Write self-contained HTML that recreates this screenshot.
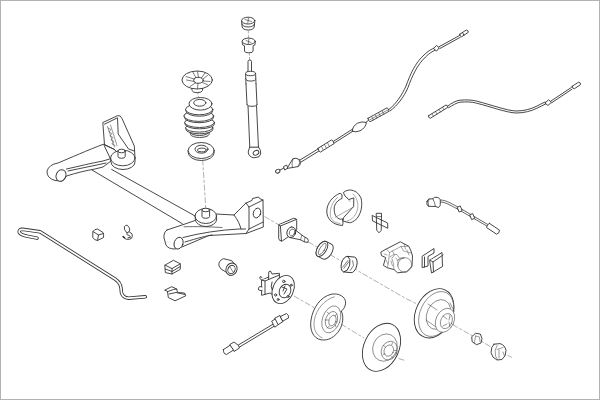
<!DOCTYPE html>
<html><head><meta charset="utf-8">
<style>
html,body{margin:0;padding:0;background:#fff;}
body{width:600px;height:400px;overflow:hidden;position:relative;}
svg{position:absolute;left:0;top:0;}
</style></head>
<body>
<svg width="600" height="400" viewBox="0 0 600 400">
<rect x="0.5" y="0.5" width="599" height="399" fill="#fff" stroke="#b2b2b2" stroke-width="1"/>
<g fill="none" stroke="#8c8c8c" stroke-width="0.7" stroke-dasharray="6 1.8 3 1.8">
  <path d="M202.7,159.5 L205.7,208"/>
  <path d="M248.3,30.5 L248.5,38 M249.3,52.5 L249.6,60 M197.5,91.5 L198.5,97.5" stroke-dasharray="3 1.5"/>
  <path d="M264.5,216.5 L317,247 L341,261 L404,297.5 L421,306 M452.5,324.5 L471,335 L491,347 L512,357.5"/>
  <path d="M294,296 L314,307.5 M341,324 L364,338 M398.5,358.5 L406,360.8"/>
  <path d="M0,0" />
</g>
<g fill="#fff" stroke="#333" stroke-width="0.9" stroke-linejoin="round" stroke-linecap="round">
  <!-- top nut -->
  <path d="M241.6,21 L242.2,27 A6,3 0 0 0 254.2,27 L254.8,21"/>
  <path d="M241.9,24 A6.3,3 0 0 0 254.5,24" fill="none"/>
  <ellipse cx="248.2" cy="20.6" rx="6.6" ry="3.4"/>
  <path d="M245,19.5 L251.5,21.5 M248.5,18 L247.8,23" fill="none" stroke-width="0.6"/>
  <!-- second nut -->
  <path d="M242.2,41.5 L242.5,44.8 L244.5,45.8 L244.5,51 A4.3,1.8 0 0 0 253.1,51 L253.1,45.8 L255,44.8 L255.2,41.5"/>
  <ellipse cx="248.7" cy="41.3" rx="6.5" ry="3.2"/>
  <path d="M246,40.5 L251,42.5 M248.8,39 L248.3,44" fill="none" stroke-width="0.6"/>
  <!-- shock rod -->
  <path d="M248,72 L248,61.5 A1.75,1.5 0 0 1 251.5,61.5 L251.5,72"/>
  <!-- shock cap -->
  <path d="M245.6,74 L246,84 A5,2.2 0 0 0 256,84 L255.6,74"/>
  <path d="M245.8,79 A4.9,2 0 0 0 255.8,79"/>
  <ellipse cx="250.6" cy="73.5" rx="5" ry="2.2"/>
  <!-- shock body -->
  <path d="M246,84 L247,104.5 L248,105.5 L249.8,148 L258.5,148 L256.5,105.5 L257,104.5 L256,84"/>
  <path d="M247,104.5 A5,1.8 0 0 0 257,104.5"/>
  <path d="M249.5,147.5 L248.2,152 Q248.5,157 254,157.8 L259,156.8 Q261.5,154.5 260.5,150.5 L258.8,147.5 Z"/>
  <ellipse cx="256" cy="152.8" rx="3" ry="2.2" transform="rotate(-30 256 152.8)"/>
  <!-- spring seat -->
  <path d="M191.5,86 L192,90.5 A5.3,2.5 0 0 0 202.5,90.5 L202.8,86"/>
  <ellipse cx="197.2" cy="80" rx="15.2" ry="9"/>
  <ellipse cx="198.5" cy="80.3" rx="4.8" ry="3"/>
  <g fill="none" stroke-width="0.65">
  <path d="M194,79 L186,76.5 M194.5,81.5 L186.5,80 M196,77.8 L193,72.3 M198.5,77.4 L197.5,71.5 M201.5,77.8 L205,73 M203,79 L207.5,75.5 M203.3,81 L210,81.5 M202.5,82.5 L208,85 M198,83.3 L197.5,88.5 M195.5,82.8 L190,86.5"/>
  </g>
  <!-- bellows -->
  <path d="M190,132 L190.5,134.5 A9.3,3.3 0 0 0 209,134.5 L209.3,132"/>
  <ellipse cx="199.5" cy="132" rx="9.5" ry="3.5"/>
  <path d="M185.6,128 L186,129.5 A13.4,4.3 0 0 0 212.8,129.5 L212.8,128"/>
  <ellipse cx="199.2" cy="127.8" rx="13.6" ry="4.3"/>
  <path d="M184.7,122.5 L185,124 A14.7,4.8 0 0 0 214.4,124 L214.5,122.5"/>
  <ellipse cx="199.6" cy="122.5" rx="14.9" ry="5"/>
  <path d="M184,116 L184.5,117.5 A14.5,5.2 0 0 0 213.5,117.5 L213.6,116"/>
  <ellipse cx="198.8" cy="116" rx="14.8" ry="5.4"/>
  <path d="M185.6,109.5 L186,111 A13.3,5.2 0 0 0 212.6,111 L212.8,109.5"/>
  <ellipse cx="199.2" cy="109.4" rx="13.6" ry="5.4"/>
  <ellipse cx="200.5" cy="103.8" rx="11.5" ry="6.3"/>
  <ellipse cx="199.8" cy="102.8" rx="6.1" ry="3.4"/>
  <!-- washer -->
  <path d="M188,150.5 L188.2,152.5 A13,8 0 0 0 214.2,152.5 L214,150.5"/>
  <ellipse cx="201.2" cy="150.5" rx="13" ry="8"/>
  <ellipse cx="201.5" cy="149.2" rx="6.5" ry="4"/>
  <ellipse cx="201.8" cy="150" rx="4.4" ry="1.9"/>
</g>

<g fill="#fff" stroke="#333" stroke-width="0.9" stroke-linejoin="round" stroke-linecap="round">
  <!-- beam -->
  <path d="M92,170 L182.5,223.8 L196,216 L111.7,169.5 Z" stroke="none"/>
  <path d="M92,170 L182.5,223.8"/>
  <path d="M111.7,169.5 L196,216.5"/>
  <!-- left arm -->
  <path d="M103.2,144.3 C88,150 70,158 58,163 Q49,164.5 47,171 Q46.5,178 55,180.5 L62,181 Q65,179 66.5,176 C76,173 86,170.5 95,169 L103,167 L111,161 Z"/>
  <path d="M66.5,169 C80,166 92,163 103,161 L112.8,158"/>
  <path d="M68,171 C82,168 95,165.5 106,163"/>
  <ellipse cx="61" cy="175.5" rx="4.8" ry="6" transform="rotate(25 61 175.5)"/>
  <!-- bracket -->
  <path d="M104.5,144.5 L102.8,122.5 L117.8,115.6 Q120.5,115 122,118.5 L134.3,146 L135,158 L122,158 L114.7,149.7 Z"/>
  <path d="M104.5,124.2 L117.5,117.8 L118.2,134 L128.5,149 L134.3,151" fill="none"/>
  <path d="M104.5,144.5 L114.7,149.7"/>
  <g fill="none" stroke="#555" stroke-width="0.6"><path d="M107.5,126.5 L114.5,147 M110.5,125 L117,145.5"/><path d="M108,128 L111,129.5 L108.8,132 L112,133.5 L109.8,136 L113,137.5 L110.8,140 L114,141.5 L111.8,144 L115,145.5"/></g>
  <!-- disk left -->
  <path d="M110.5,158 L111,162 A12,7.5 0 0 0 135,162 L135,158"/>
  <ellipse cx="122.8" cy="158" rx="12.2" ry="7.8"/>
  <path d="M118,151 L118,156.5 A3.6,1.8 0 0 0 125.2,156.5 L125.2,151"/>
  <ellipse cx="121.6" cy="151" rx="3.6" ry="1.8"/>
  <!-- right arm plate -->
  <path d="M167,230 L185,224 L195,220.5 L216,214 L234,215 L243,206 L246,203 L252,200.5 L252.5,198.5 L258.5,197 L259.5,198.5 L263,200 L263.3,227 L246,233.5 L209,235.5 L183,246.5 L175,249 Q168,249 166,245 L164,238 Q163.5,232 167,230 Z"/>
  <path d="M183,237.5 C200,233 220,230 239,229 L249,229"/>
  <path d="M185,242 C198,238 206,236 212,235"/>
  <path d="M184,226.8 C195,226.3 210,226.8 222,227.5" fill="none" stroke-width="0.7"/>
  <path d="M234,215 C238,220 240,225 241,229"/>
  <path d="M246,203 L249,207 L249,229 L246,233.5 M249,207 L263,200 M249,229 L263.2,222"/>
  <ellipse cx="257" cy="213" rx="3.6" ry="5" transform="rotate(20 257 213)"/>
  <ellipse cx="178.6" cy="243.2" rx="4.4" ry="6" transform="rotate(20 178.6 243.2)"/>
  <!-- disk right -->
  <path d="M195,216 L195.3,219 A10.7,7.5 0 0 0 216.7,219 L216.5,216"/>
  <ellipse cx="205.8" cy="216" rx="10.7" ry="7.5"/>
  <path d="M202,210 L202,216.5 A3.8,1.8 0 0 0 209.6,216.5 L209.6,210"/>
  <ellipse cx="205.8" cy="210" rx="3.8" ry="1.8"/>
</g>

<g fill="#fff" stroke="#333" stroke-width="0.9" stroke-linejoin="round" stroke-linecap="round">
  <!-- stabilizer bar -->
  <path id="stab" d="M37,238.2 L28,236.4 Q21,235 19.3,232.5 Q18.5,229.4 22.5,229.3 L40,231.8 L115,279 Q120.5,282.8 121,288 L121.5,293 Q123,297.6 128.5,298.2 L145.3,296.8" fill="none" stroke="#333" stroke-width="3.4" stroke-linecap="round"/>
  <path d="M37,238.2 L28,236.4 Q21,235 19.3,232.5 Q18.5,229.4 22.5,229.3 L40,231.8 L115,279 Q120.5,282.8 121,288 L121.5,293 Q123,297.6 128.5,298.2 L145.3,296.8" fill="none" stroke="#fff" stroke-width="1.7" stroke-linecap="round"/>
  <!-- bushing block -->
  <path d="M93,231.5 Q94.5,229 97.5,229 L103,232.5 Q104,234.5 103.5,237.5 L97.5,240.5 Q94,240 93,238 Z"/>
  <path d="M93,231.5 L98.5,235 L103.5,233.5 M98.5,235 L97.5,240.5"/>
  <!-- clip -->
  <path d="M127,233 Q123.5,229.5 124.3,226.8 Q125.5,224.8 127.3,225.3 Q129.5,227 129.8,230 Q129.5,232.5 127,233 Z" fill="none"/>
  <path d="M129.5,232 L132,233.8 Q133,236.5 131.3,238.5 Q129.5,239.6 126.4,239.3 Q124.3,238.6 123.1,237 M127,234.6 Q130,235 130.6,237.2 L128,237.8" fill="none"/>
  <path d="M123.2,236.6 L124.5,237.8" stroke-width="1.5"/>
  <!-- rubber block -->
  <path d="M165.1,265.1 L173.4,260.3 L180.3,263.8 L180.3,269.3 L172,274 L165.8,272.7 Z"/>
  <path d="M165.1,265.1 L172,268.6 L180.3,263.8 M172,268.6 L172,274 M165.5,269 L172,271.5 L180.3,266.5"/>
  <!-- bracket small -->
  <path d="M165,290 L171.7,286.7 L176.7,289 L177.5,292.5 L184.5,293 L185.8,295.8 L175,300.8 L168.3,297.5 L167.5,291.7 Z"/>
  <path d="M167.5,291.7 L173.5,289.5 L176.7,289 M169,294 L176,292.5 L185,294.5"/>
  <!-- cylinder bushing -->
  <path d="M223,258.8 Q218,261 219,266 Q220,269.5 226,272 L230,275.5 L236.5,267 L232,261 Z"/>
  <ellipse cx="231.5" cy="269.2" rx="5.5" ry="6.3" transform="rotate(25 231.5 269.2)"/>
  <ellipse cx="231.5" cy="269.5" rx="3.5" ry="4.3" transform="rotate(25 231.5 269.5)"/>
  <path d="M230,267 L233,272" stroke-width="0.6"/>
</g>

<g fill="#fff" stroke="#333" stroke-width="0.9" stroke-linejoin="round" stroke-linecap="round">
  <!-- wheel hub -->
  <path d="M261.9,280.1 L268.6,277 L268.8,271.8 L270.5,271 L272,274 L279.4,273.3 L279.4,279 L283,283 L276,297 L270,293 L262,295.2 Z"/>
  <path d="M261.9,280.1 L265,281 L279.4,275 M265,281 L265,294.5 M268.6,277 L268.6,279.5"/>
  <path d="M262,277.5 L260.2,276.5 L259.8,278.5 L261.9,280.1"/>
  <path d="M262,287 L259.5,286.5 Q257.8,288 258.6,290 L262,290.8"/>
  <path d="M272,282 Q270,287 272.5,291"/>
  <ellipse cx="283.2" cy="289.5" rx="10.3" ry="14.8" transform="rotate(25 283.2 289.5)"/>
  <ellipse cx="285" cy="291" rx="5.6" ry="7" transform="rotate(25 285 291)"/>
  <path d="M282,287 L287,289 L284,294 M285,286 L283,291"/>
  <circle cx="283.8" cy="281.4" r="1.2"/>
  <circle cx="275.6" cy="295" r="1.1"/>
  <circle cx="278.1" cy="299.5" r="1"/>
  <circle cx="291.2" cy="285.2" r="1"/>
  <circle cx="288" cy="296.5" r="1"/>
  <!-- ABS sensor lower -->
  <path d="M238.4,345 L272.8,324.3 M239.6,347 L274,326.3"/>
  <path d="M223.5,349.5 L230.5,345 L233.5,350 L226.5,354.5 Q223,354 223.5,349.5 Z"/>
  <path d="M230,344.5 L234,342 L238.5,345.5 L239.5,348 L234,351.5 L233.5,350 Z"/>
  <path d="M272,321 L276,318.5 L279,324 L275,327 Z"/>
  <path d="M275,318 L280,315.5 L283,321.5 L278.5,324.5 Z"/>
  <path d="M280.5,316.5 L286.5,313.5 Q289,315 288.5,318 L283,321 Z"/>
</g>
<g fill="#fff" stroke="#333" stroke-width="0.9" stroke-linejoin="round" stroke-linecap="round">
  <!-- disc 1 (backing plate) -->
  <path d="M341.3,311.3 C345.5,308 346.8,302 344.3,298.3 C341,294.3 336,293.3 331,294.3 C321,296.8 313,307 311,320 C309.5,330 313,338.3 321,339.8 C328.5,341 335,337 339.5,330 C343,324 344,316 341.3,311.3 Z"/>
  <g stroke="#555" stroke-width="0.6" fill="none">
  <path d="M334.5,296.8 C324.5,299.5 316.5,309 314.3,320 C313,329 316,335 322,337.8"/>
  <ellipse cx="331.3" cy="319.4" rx="8.8" ry="14" transform="rotate(20 331.3 319.4)"/>
  <ellipse cx="331.5" cy="320" rx="5.8" ry="8.8" transform="rotate(20 331.5 320)"/>
  <ellipse cx="332.5" cy="320.6" rx="3.4" ry="5.5" transform="rotate(20 332.5 320.6)"/>
  <path d="M327,312 L329.5,314 M325,320 L328.5,320 M327,328 L329.5,326 M336.5,314 L335,316.5 M336,327 L335,324.5"/>
  </g>
  <!-- disc 2 -->
  <ellipse cx="381.5" cy="347.3" rx="17.5" ry="25.2" transform="rotate(25 381.5 347.3)"/>
  <g stroke="#555" stroke-width="0.6" fill="none">
    <ellipse cx="385" cy="347.6" rx="12" ry="14" transform="rotate(25 385 347.6)"/>
  <ellipse cx="389.3" cy="350.6" rx="7.8" ry="9.6" transform="rotate(25 389.3 350.6)"/>
  <ellipse cx="388.8" cy="350.6" rx="4.6" ry="5.8" transform="rotate(25 388.8 350.6)"/>
  <path d="M383.5,345.5 L385.5,347 M392.5,342.8 L391.8,344.8 M383,354.5 L385,353.8 M392.5,358.3 L391.8,356.3 M396.5,350.5 L394.3,350.5"/>
  </g>
  <!-- disc 3 (drum) -->
  <ellipse cx="434.1" cy="313.3" rx="18.3" ry="25.8" transform="rotate(25 434.1 313.3)"/>
  <g stroke="#555" stroke-width="0.6">
  <ellipse cx="436.2" cy="314" rx="16" ry="23.6" transform="rotate(25 436.2 314)" fill="none"/>
  <ellipse cx="438.5" cy="314.5" rx="11.5" ry="15.5" transform="rotate(25 438.5 314.5)" fill="none"/>
  <path d="M428,304 L437,310 M426,320 L436,327 M450,303 L454,311" fill="none"/>
  <ellipse cx="445" cy="320.3" rx="9" ry="12.6" transform="rotate(25 445 320.3)" fill="#fff"/>
  <ellipse cx="446.4" cy="321.1" rx="5.6" ry="7.9" transform="rotate(25 446.4 321.1)" fill="none"/>
  <path d="M443,316 L447,319 M450,315 L449,320 M443,326 L447,324 M450,327 L449,322" fill="none"/>
  </g>
  <!-- nuts -->
  <path d="M472,336.5 L475.5,333.3 L480.3,334 L482,338.5 L481,343 L476.5,344.7 L472.5,342 Z"/>
  <path d="M475.5,336 L479.5,337 L480,341.5 M475.5,336 L474.5,342.5" stroke="#555" stroke-width="0.6"/>
  <path d="M494,344.2 L500,343.6 Q505,345 506,350.5 Q506,356.5 502,359.5 L497,360 Q492,358 491,352.5 Q491,346.5 494,344.2 Z"/>
  <path d="M497,345.5 Q494,350 495.5,356 L497.5,359.5 M497,349.5 L503,347.5 M499,350 L499,358 M503,352 L504.5,356" stroke="#555" stroke-width="0.6" fill="none"/>
</g>

<g fill="none" stroke="#333" stroke-width="0.9" stroke-linejoin="round" stroke-linecap="round">
  <!-- cable 1 (double line) -->
  <path d="M299.5,160.3 L318.8,148.5 M300.3,162.5 L319.8,150.5"/>
  <path d="M333.5,141.3 L353.5,128.5 M334.3,143 L354.5,130.2"/>
  <path d="M363.5,124.3 L368.5,120.3"/>
  <path d="M389,109.4 C396,104 402,95 406,86 C410,75 415,63 424,55 C428,51 432,49 434,48 M390,111 C397,106 404,97 408,87.5 C412,76.5 417,65 425.5,57 C429,53.5 433,51 435,50.2"/>
  <path d="M439,46.8 L459.5,35.5 M439.8,48.6 L460.2,37.3"/>
  <!-- cable 2 -->
  <path d="M447.7,106 C452,103 456,100.5 460,100.2 C466,99.6 472,99.8 477,101.2 C484,103 492,105.5 498,107.2 C505,109.2 511,110.8 516,111 C524,111 531,109 536,106.5 C539,105 542,103.5 545,102 M448.5,107.8 C453,105 457,102.6 460.2,102.2 C466,101.6 472,101.8 476.6,103.2 C484,105 492,107.5 497.5,109.2 C505,111.2 511,112.8 516,113 C524,113 531.5,111 536.8,108.3 C540,106.8 543,105.2 546,103.8"/>
  <path d="M551,101 L571.3,87.5 M551.8,102.7 L572,89.2"/>
</g>
<g fill="#fff" stroke="#333" stroke-width="0.9" stroke-linejoin="round" stroke-linecap="round">
  <!-- cable 1 end parts -->
  <ellipse cx="277.8" cy="171.2" rx="2.3" ry="1.8" transform="rotate(-30 277.8 171.2)"/>
  <path d="M280,170 L284,168"/>
  <path d="M283.8,166.5 L286.5,165 L288,168 L285,169.8 Z"/>
  <path d="M287.3,168 L292.8,158.8 Q296,157.2 299.3,159.6 L300.6,162.3 Q300.2,165.8 298,166.6 L292.3,167.6 Z"/>
  <path d="M293,158.8 Q291.3,163 292.3,167.5 M299.2,159.6 Q300.8,163 298,166.6" fill="none" stroke-width="0.6"/>
  <path d="M318,148.3 L331.6,139.9 Q333.5,140.5 334,143.7 L320.4,152.1 Q318.5,151.5 318,148.3 Z"/>
  <path d="M321.5,146.5 L323,149.5 M324.5,144.6 L326,147.6 M327.5,142.8 L329,145.8" stroke-width="0.6"/>
  <path d="M352.3,131.2 Q352.5,126 357.5,123.2 Q362,121 366.5,122.5 Q365.5,128 360,130.8 Q355.5,132.8 352.3,131.2 Z"/>
  <path d="M368,118.3 L387,107.8 Q389,108.5 389,111.3 L370,121.8 Q368.3,121 368,118.3 Z"/>
  <path d="M369.5,120 L388,109.8 M372,117.2 L373.3,120 M375.5,115.3 L376.8,118 M379,113.4 L380.3,116 M382.5,111.4 L383.8,114" stroke-width="0.55"/>
  <path d="M433.8,48.3 L436.5,45.5 L439.2,47.8 L436.8,50.8 Z"/>
  <path d="M459.8,34.2 L466.3,30 Q468.3,30.3 468.3,32.3 L461.5,36.8 Q459.8,36.5 459.8,34.2 Z M462.5,32.5 L464,35.2" />
  <path d="M428.5,115.8 L446,105 Q448,105.3 447.9,107.3 L430.3,118.3 Q428.3,118 428.5,115.8 Z"/>
  <path d="M432,113.8 L433.5,116.3 M435.5,111.6 L437,114.1 M439,109.4 L440.5,111.9 M442.5,107.2 L444,109.7" stroke-width="0.55"/>
  <path d="M545.2,102.8 L548.5,99.8 L551.5,102.3 L548.2,105.2 Z"/>
  <path d="M572.2,86.3 L578.5,82.2 Q580.8,82.5 580.6,84.6 L574.3,88.8 Q572.3,88.6 572.2,86.3 Z"/>
  <!-- ABS sensor right -->
  <path d="M440.3,200 C446,200 450,203 458,207 L489,225.2 M440.5,202 C445.5,202 449.5,205 457.5,209 L488.5,227" fill="none" stroke-width="0.75"/>
  <path d="M427,201.5 Q426,204.5 428.3,206.3 L435.5,206.5 L438.5,207.5 Q440.8,206 440.3,203 L440.3,199.5 Q438.5,196.5 434.5,197.3 L433,198.8 L429,199 Q427.5,199.5 427,201.5 Z"/>
  <path d="M429,199 Q427.2,202.5 428.6,206.2 M433,198.8 Q434.5,202 435.5,206.5" fill="none" stroke-width="0.7"/>
  <path d="M457.5,207.3 L460.2,205.9 L462.2,210.5 L459.5,211.9 Z"/>
  <path d="M470,214.8 L472.7,213.5 L474.7,218.2 L472,219.5 Z"/>
  <path d="M489.4,223.4 L499.4,230 Q500,233 496.6,234.2 L486.6,227.6 Q486.5,224.5 489.4,223.4 Z"/>
  <!-- brake shoes -->
  <path d="M339.7,193.4 C333,196 327,203 326.8,211 C326.5,219 333,225 342.5,225.5 L343,223.2 L342.5,218.8 L340.8,219.3 C336,218.5 334,214 334.2,208 C334.6,203.5 338,200 342,198.5 L342,195 Z"/>
  <path d="M343.6,192.3 C346,190.5 348,190 350.4,190 C355,190.5 358,192.5 361,198 C362.5,204 362,212 357,218.5 C354,221.5 351,223 349.2,222.7 L343,221 L343.6,217.6 L353.7,206.4 L353.75,197.9 L348.7,199.6 L345.3,196.25 Z"/>
  <g stroke="#666" stroke-width="0.55" fill="none">
  <path d="M337.5,197.5 C331.5,202.5 329.5,210 330.5,216.5 C332,221 335.5,223 340,223.5"/>
  <path d="M353,194 C358,198.5 359.5,206.5 356,213.5 C353.5,218 350.5,220.5 347,221"/>
  <path d="M335,217.5 L353.5,207 M347,197.5 L350,201.5"/>
  </g>
  <!-- cross clip -->
  <g fill="none">
  <path d="M376.6,213.3 L381.5,213.3 L381.2,230.5 L379,232.8 L377,230.5 Z"/>
  <path d="M372.2,215.8 L372.5,220.8 L387.8,228.3 L387.6,223.4 Z"/>
  <path d="M377,216.5 L381.3,216.5" stroke-width="0.6"/>
  </g>
  <!-- caliper -->
  <path d="M381.2,251.9 L386.3,249 L400.3,241.8 L408.8,246.3 L411,251 L412.5,256 L412,266.5 L406.5,271.8 L397.5,272.8 L394,269.5 L387.4,267.8 L383.4,265.4 L385.7,257.5 L381.8,255.8 Z"/>
  <g stroke="#666" stroke-width="0.6" fill="none">
  <path d="M386.3,249 L389.5,252.5 L401,246.5 L408.8,246.3 M389.5,252.5 L388.5,262 L387.4,267.8 M392.5,251 L394.5,255 L391.8,258.5 L393.5,263.5 L394,269.5 M401,246.5 L403.5,251 L411,253"/>
  <path d="M384,254 L387,255 M390,257 Q393,253.5 397,254.5 L399.5,258 M396,258 Q399,261 397.5,266 M386,260 L388,264 M404,243.5 L405.5,249 M407,250 L409,255 M391,261 L392.5,266"/>
  <ellipse cx="404.8" cy="265" rx="6.8" ry="7.3" transform="rotate(20 404.8 265)"/>
  </g>
  <path d="M398,260 Q400,257.5 404,257.7" fill="none" stroke-width="0.8"/>
  <!-- pads -->
  <path d="M422.5,256 L434,248.5 L434,253 L428,256.5 L428,266 L422.5,267.5 Z"/>
  <path d="M424.5,257 L424.5,267"/>
  <path d="M430,260 L442,252.5 L442.5,266.5 L431.5,273 L430.5,266.5 Z"/>
  <path d="M430,260 L433,262 L443,255 M433,262 L433.5,272"/>
  <!-- stub axle -->
  <path d="M279.5,224.4 L293.5,218.3 Q296.5,218 296.7,220.5 L296.7,229.5 Q296.5,231 295,232 L282.5,240.8 Q279,241.5 278.7,238.5 L278.7,226 Q278.8,225 279.5,224.4 Z"/>
  <path d="M278.7,224.9 L280.4,226 L296.7,219.3 M280.4,226 L281.5,241.2"/>
  <path d="M291.5,227 L295,229.8 L301.8,235 L305,237.3 L307.5,238.5 Q309,240.5 307.8,242.5 L304.3,241.8 L300.6,239.8 L290,237.6 Z"/>
  <path d="M301.8,235 L300.6,239.8 M305,237.3 L304.3,241.8" fill="none" stroke-width="0.6"/>
  <ellipse cx="291.3" cy="232.3" rx="4.3" ry="5.4" transform="rotate(20 291.3 232.3)"/>
  <ellipse cx="292" cy="232.5" rx="2.6" ry="3.6" transform="rotate(20 292 232.5)" fill="none" stroke-width="0.6"/>
  <!-- bearings -->
  <g transform="rotate(32 324.5 250.5)">
  <path d="M321.5,242 L327.5,241.5 A4.5,8.5 0 0 1 327.5,258.5 L321.5,259 A4.5,8.5 0 0 1 321.5,242 Z"/>
  <ellipse cx="321.5" cy="250.5" rx="4.5" ry="8.5"/>
  <ellipse cx="321.8" cy="250.5" rx="2.3" ry="6.5" fill="none" stroke-width="0.6"/>
  </g>
  <g transform="rotate(14 349 265)">
  <path d="M345.5,257 L352.5,256 A4.2,8 0 0 1 352.5,272 L345.5,273 A4.2,8 0 0 1 345.5,257 Z"/>
  <path d="M345.5,257 L348.5,259.5 L349.7,265 L348.5,270.5 L345.5,273" fill="none"/>
  <path d="M351.5,260 L353.5,264.5 L351.5,270" fill="none" stroke-width="0.6"/>
  <path d="M343.5,268.5 L346.8,261 M344.8,269.5 L348,262" fill="none" stroke-width="0.6"/>
  </g>
</g>
</svg>
</body></html>
